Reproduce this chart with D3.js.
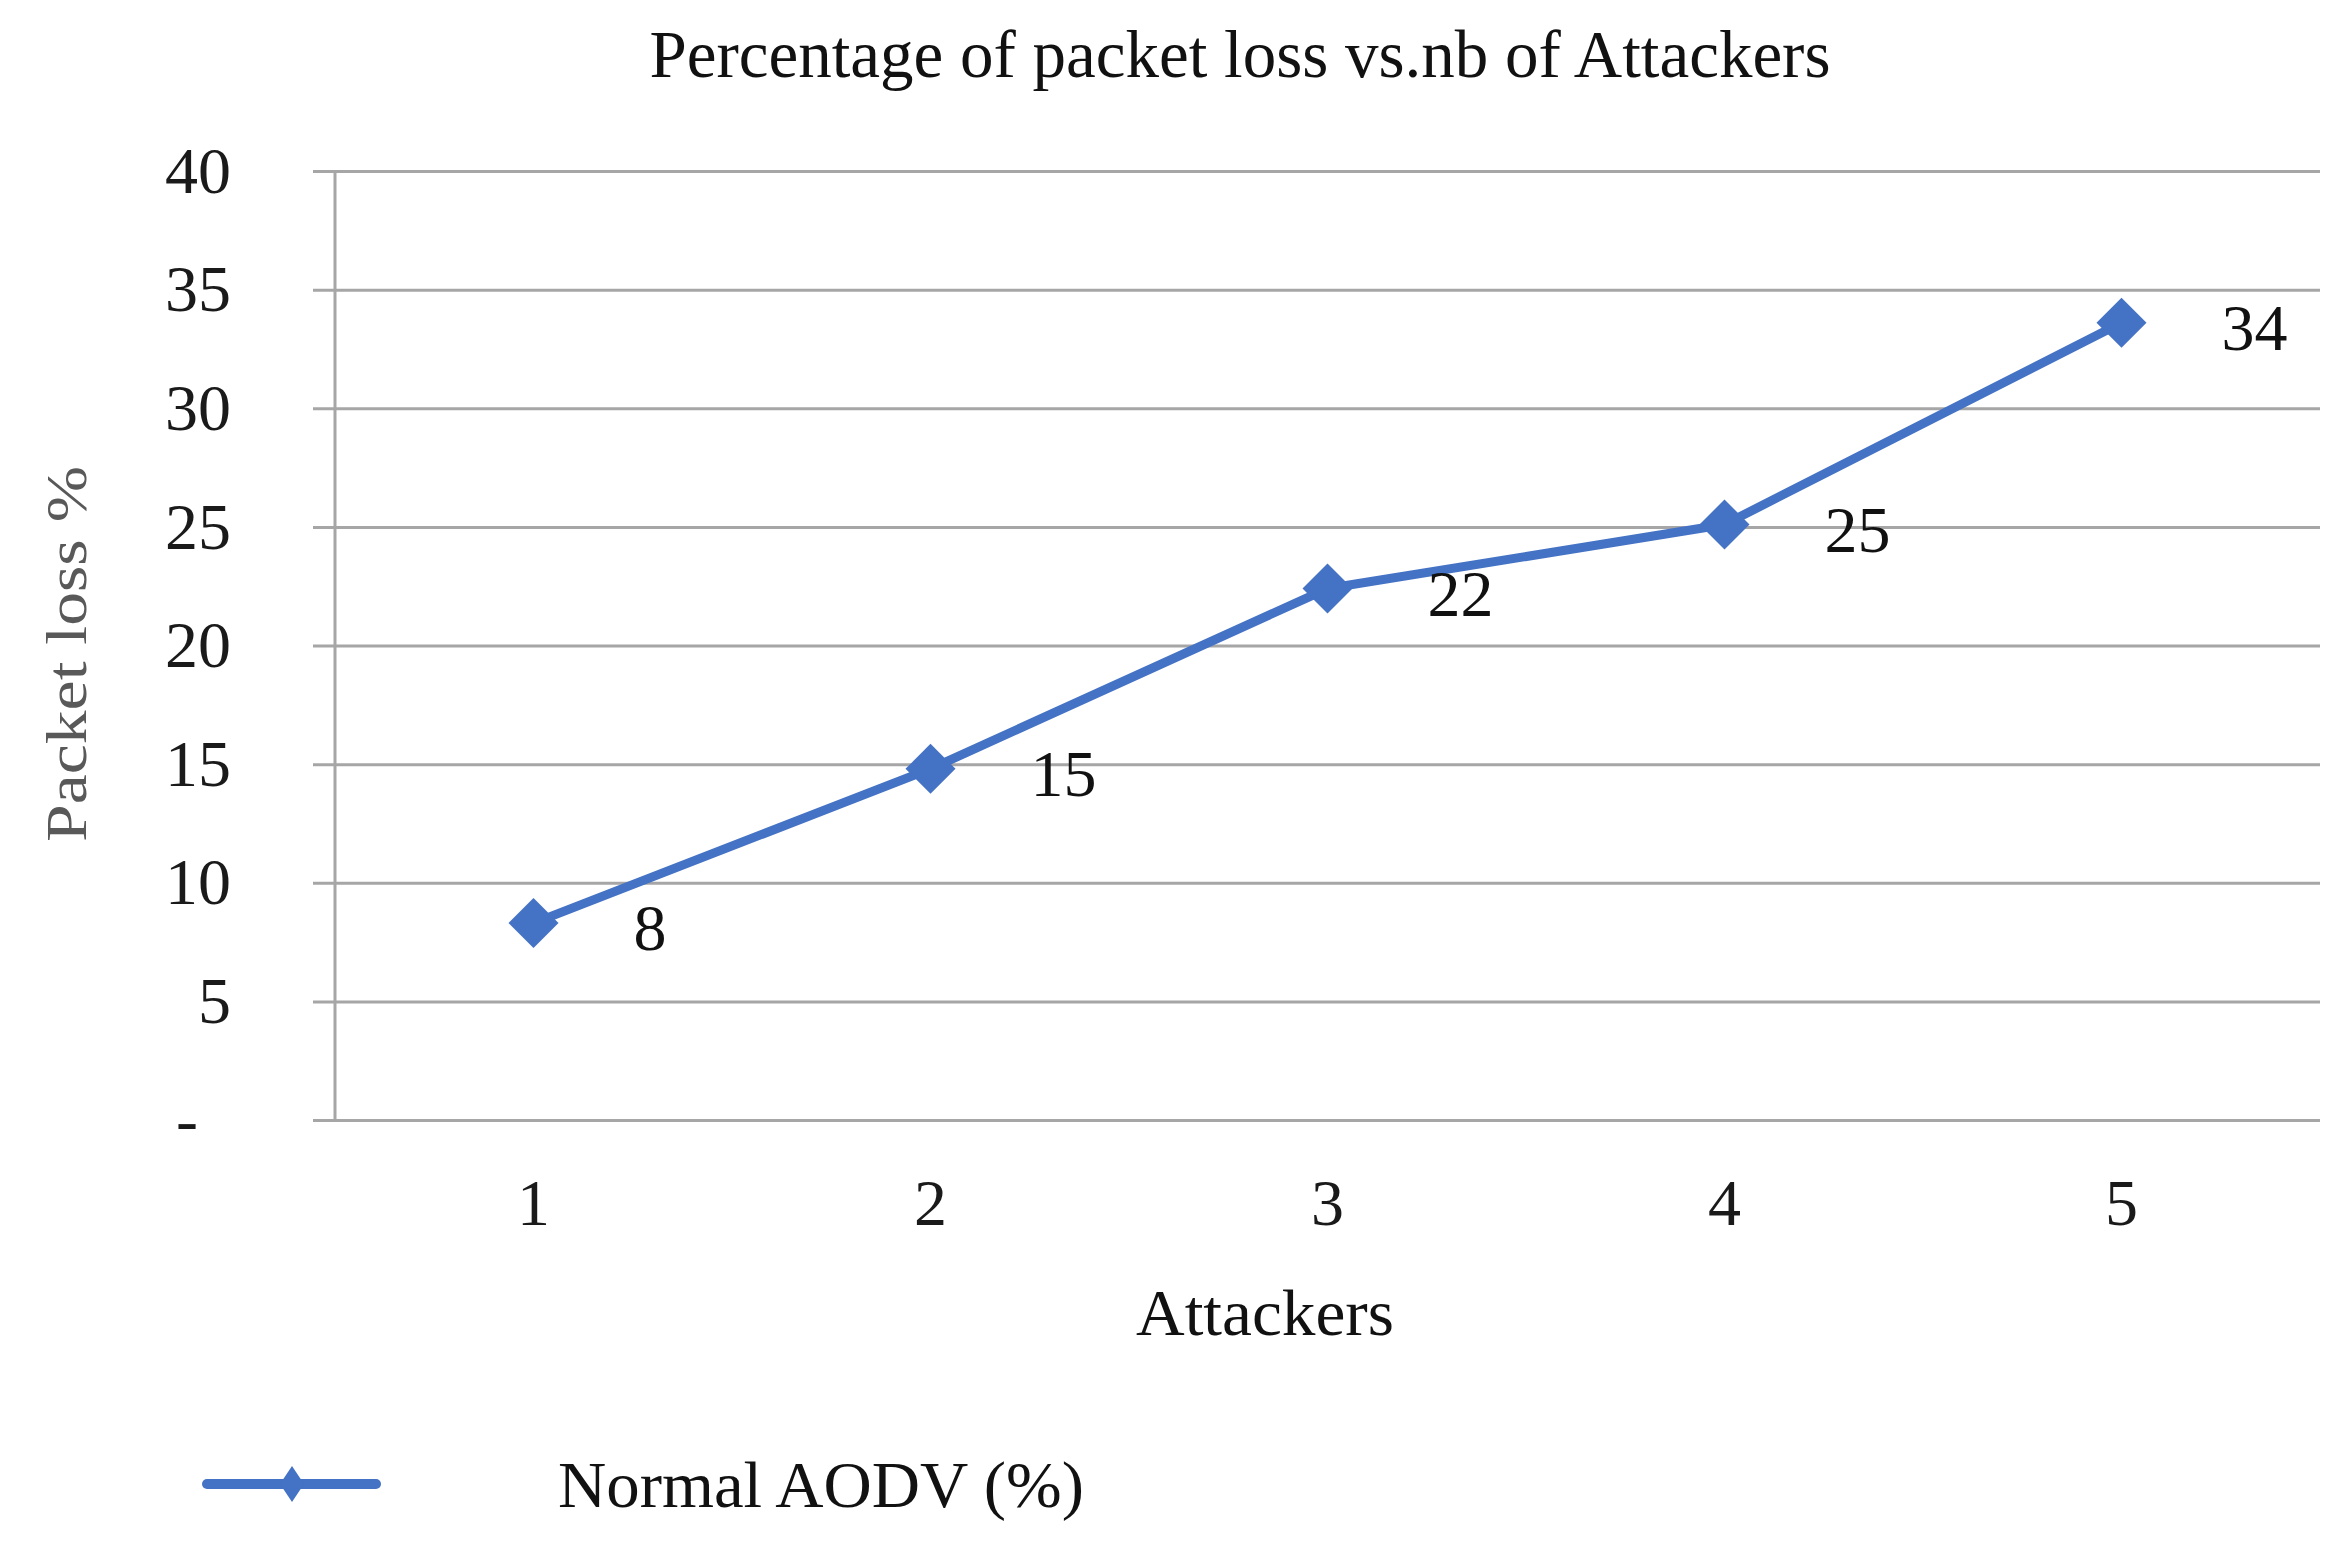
<!DOCTYPE html>
<html>
<head>
<meta charset="utf-8">
<script src="https://cdn.jsdelivr.net/npm/d3@7"></script>
<style>
  body { margin: 0; background: #fff; }
  text { font-family: "Liberation Serif", "Times New Roman", serif; }
</style>
</head>
<body>
<div id="chart"></div>
<script>
// Chart data
var attackers = ["1", "2", "3", "4", "5"];
var packetLoss = [8.3, 14.8, 22.4, 25.1, 33.6];
var yTicks = [0, 5, 10, 15, 20, 25, 30, 35, 40];
var yTickLabels = ["-\u2007", "5", "10", "15", "20", "25", "30", "35", "40"];
var seriesName = "Normal AODV (%)";

var W = 2346, H = 1567;
var margin = {top: 171, right: 26, bottom: 447, left: 335};
var plotW = W - margin.left - margin.right,
    plotH = H - margin.top - margin.bottom;
var blue = "#4472C4", grid = "#A6A6A6";

var svg = d3.select("#chart")
  .append("svg")
  .attr("width", W)
  .attr("height", H);

svg.append("rect").attr("width", W).attr("height", H).attr("fill", "#fff");

var g = svg.append("g")
  .attr("transform", "translate(" + margin.left + "," + margin.top + ")");

// Scales
var x = d3.scaleBand()
  .domain(attackers)
  .range([0, plotW])
  .padding(0);

var y = d3.scaleLinear()
  .domain([0, 40])
  .range([plotH, 0]);

// Gridlines (start left of the axis, like Excel's outside tick marks)
var gridAxis = g.append("g")
  .attr("transform", "translate(-22,0)")
  .call(d3.axisRight(y).tickValues(yTicks).tickSize(plotW + 22).tickFormat(""));
gridAxis.select(".domain").remove();
gridAxis.selectAll("line").attr("stroke", grid).attr("stroke-width", 3);

// Y axis line
g.append("line")
  .attr("x1", 0).attr("x2", 0)
  .attr("y1", 0).attr("y2", plotH)
  .attr("stroke", grid).attr("stroke-width", 3);

// Y tick labels
var yAxis = g.append("g")
  .call(d3.axisLeft(y).tickValues(yTicks).tickSize(0).tickPadding(104)
    .tickFormat(function(d, i) { return yTickLabels[i]; }));
yAxis.select(".domain").remove();
yAxis.selectAll("text")
  .attr("font-size", 66)
  .attr("fill", "#1a1a1a")
  .style("font-family", "'Liberation Serif', serif")
  .style("white-space", "pre");

// X tick labels
var xAxis = g.append("g")
  .attr("transform", "translate(0," + plotH + ")")
  .call(d3.axisBottom(x).tickSize(0).tickPadding(58));
xAxis.select(".domain").remove();
xAxis.selectAll("text")
  .attr("font-size", 66)
  .attr("fill", "#1a1a1a")
  .style("font-family", "'Liberation Serif', serif");

// Line
var line = d3.line()
  .x(function(d, i) { return x(attackers[i]) + x.bandwidth() / 2; })
  .y(function(d) { return y(d); });

g.append("path")
  .datum(packetLoss)
  .attr("d", line)
  .attr("fill", "none")
  .attr("stroke", blue)
  .attr("stroke-width", 9)
  .attr("stroke-linejoin", "round");

// Diamond markers
g.selectAll(".marker")
  .data(packetLoss)
  .enter()
  .append("path")
  .attr("class", "marker")
  .attr("d", "M0,-25L25,0L0,25L-25,0Z")
  .attr("fill", blue)
  .attr("transform", function(d, i) {
    return "translate(" + (x(attackers[i]) + x.bandwidth() / 2) + "," + y(d) + ")";
  });

// Data labels
g.selectAll(".dlabel")
  .data(packetLoss)
  .enter()
  .append("text")
  .attr("class", "dlabel")
  .attr("x", function(d, i) { return x(attackers[i]) + x.bandwidth() / 2 + 100; })
  .attr("y", function(d) { return y(d) + 27; })
  .attr("font-size", 66)
  .attr("fill", "#111")
  .text(function(d) { return d3.format(".0f")(d); });

// Title
svg.append("text")
  .attr("x", 1240)
  .attr("y", 77)
  .attr("text-anchor", "middle")
  .attr("font-size", 68)
  .attr("fill", "#111")
  .attr("textLength", 1181)
  .attr("lengthAdjust", "spacingAndGlyphs")
  .text("Percentage of packet loss vs.nb of Attackers");

// X axis title
svg.append("text")
  .attr("x", 1265)
  .attr("y", 1335)
  .attr("text-anchor", "middle")
  .attr("font-size", 66)
  .attr("fill", "#111")
  .attr("textLength", 258)
  .attr("lengthAdjust", "spacingAndGlyphs")
  .text("Attackers");

// Y axis title
svg.append("text")
  .attr("transform", "translate(86,654) rotate(-90)")
  .attr("text-anchor", "middle")
  .attr("font-size", 58)
  .attr("fill", "#595959")
  .attr("textLength", 376)
  .attr("lengthAdjust", "spacingAndGlyphs")
  .text("Packet loss %");

// Legend
var legend = svg.append("g").attr("transform", "translate(207,1484)");
legend.append("line")
  .attr("x1", 0).attr("x2", 169)
  .attr("y1", 0).attr("y2", 0)
  .attr("stroke", blue)
  .attr("stroke-width", 10)
  .attr("stroke-linecap", "round");
legend.append("path")
  .attr("d", "M0,-18L12,0L0,18L-12,0Z")
  .attr("transform", "translate(85,0)")
  .attr("fill", blue);
legend.append("text")
  .attr("x", 351)
  .attr("y", 23)
  .attr("font-size", 66)
  .attr("fill", "#111")
  .attr("textLength", 526)
  .attr("lengthAdjust", "spacingAndGlyphs")
  .text(seriesName);
</script>
</body>
</html>
